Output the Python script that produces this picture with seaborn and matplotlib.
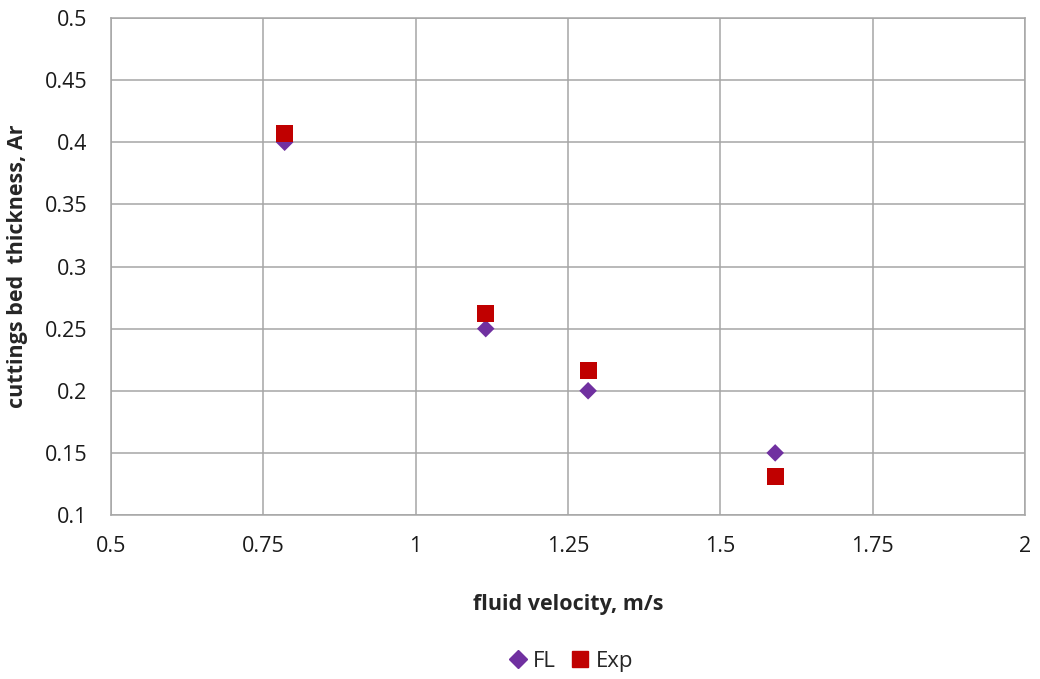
import matplotlib
matplotlib.use("Agg")
import matplotlib.pyplot as plt
import pandas as pd
import seaborn as sns

velocity = [0.785, 1.115, 1.283, 1.590]
fl_values = [0.40, 0.25, 0.20, 0.15]
exp_values = [0.407, 0.262, 0.216, 0.131]

x_ticks = [0.5, 0.75, 1, 1.25, 1.5, 1.75, 2]
x_labels = ["0.5", "0.75", "1", "1.25", "1.5", "1.75", "2"]
y_ticks = [0.1, 0.15, 0.2, 0.25, 0.3, 0.35, 0.4, 0.45, 0.5]
y_labels = ["0.1", "0.15", "0.2", "0.25", "0.3", "0.35", "0.4", "0.45", "0.5"]

df = pd.DataFrame({
    "velocity": velocity + velocity,
    "thickness": fl_values + exp_values,
    "series": ["FL"] * len(velocity) + ["Exp"] * len(velocity),
})

sns.set_style("white")
plt.rcParams["font.family"] = ["Open Sans", "DejaVu Sans"]

fig = plt.figure(figsize=(10.4, 6.79), dpi=100)
ax = fig.add_axes([0.1067, 0.2415, 0.8789, 0.732])

grid_col = "#a6a6a6"
ax.set_axisbelow(True)
ax.grid(True, color=grid_col, linewidth=1.1)

sns.scatterplot(
    data=df, x="velocity", y="thickness", hue="series", style="series",
    palette={"FL": "#7030a0", "Exp": "#c00000"},
    markers={"FL": "D", "Exp": "s"},
    size="series", sizes={"FL": 80, "Exp": 150},
    linewidth=0, ax=ax, legend=False, zorder=3,
)

ax.set_xlim(0.5, 2)
ax.set_ylim(0.1, 0.5)
ax.set_xticks(x_ticks)
ax.set_xticklabels(x_labels)
ax.set_yticks(y_ticks)
ax.set_yticklabels(y_labels)
ax.tick_params(axis="x", length=0, pad=15, labelsize=15.5, labelcolor="#1a1a1a")
ax.tick_params(axis="y", length=6, width=1.1, color=grid_col, pad=11,
               labelsize=15.5, labelcolor="#1a1a1a")
for s in ax.spines.values():
    s.set_color(grid_col)
    s.set_linewidth(1.1)

ax.set_xlabel("fluid velocity, m/s", fontsize=15.5, fontweight="bold", labelpad=27)
ax.set_ylabel("cuttings bed  thickness, Ar", fontsize=15.5, fontweight="bold", labelpad=12)

handles = [
    plt.Line2D([], [], marker="D", color="#7030a0", linestyle="none", markersize=9),
    plt.Line2D([], [], marker="s", color="#c00000", linestyle="none", markersize=12),
]
fig.legend(handles, ["FL", "Exp"], loc="center", bbox_to_anchor=(0.548, 0.026),
           ncol=2, frameon=False, fontsize=16, handlelength=1.0,
           handletextpad=0.2, columnspacing=0.6)

fig.savefig("out.png", dpi=100)
